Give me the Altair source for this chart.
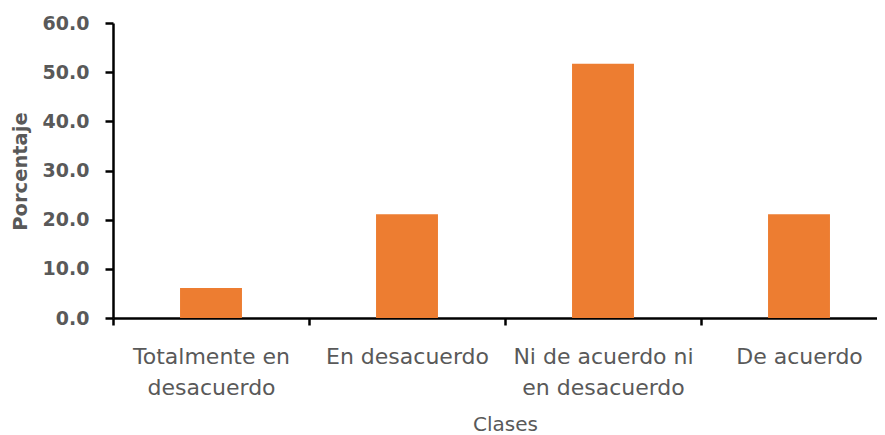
import altair as alt
import pandas as pd

categorias = ["Totalmente en\ndesacuerdo", "En desacuerdo", "Ni de acuerdo ni\nen desacuerdo", "De acuerdo"]
porcentajes = [6.1, 21.1, 51.7, 21.1]
y_ticks = [0, 10, 20, 30, 40, 50, 60]

df = pd.DataFrame({"clase": categorias, "porcentaje": porcentajes})

GRAY = "#595959"
FONT = "DejaVu Sans"

chart = alt.Chart(df).mark_bar(
    color="#ED7D31", width=alt.RelativeBandSize(0.316)
).encode(
    x=alt.X(
        "clase:N",
        sort=categorias,
        scale=alt.Scale(paddingInner=0, paddingOuter=0),
        axis=alt.Axis(
            title="Clases",
            titleFont=FONT,
            titleFontSize=20,
            titleFontWeight="normal",
            titleColor=GRAY,
            titleX=392,
            titleY=106,
            titleBaseline="middle",
            labelFont=FONT,
            labelFontSize=22,
            labelColor=GRAY,
            labelAngle=0,
            labelPadding=21,
            labelLineHeight=31,
            labelLimit=400,
            labelExpr="split(datum.label, '\\n')",
            tickBand="extent",
            tickSize=7,
            tickWidth=2.5,
            tickColor="black",
            domainColor="black",
            domainWidth=2.5,
            grid=False,
        ),
    ),
    y=alt.Y(
        "porcentaje:Q",
        scale=alt.Scale(domain=[0, 60], nice=False),
        axis=alt.Axis(
            title="Porcentaje",
            values=y_ticks,
            format=".1f",
            titleFont=FONT,
            titleFontSize=19.5,
            titleFontWeight="bold",
            titleColor=GRAY,
            titleX=-87,
            titleY=148,
            titleAngle=270,
            titleBaseline="alphabetic",
            titleAlign="center",
            labelFont=FONT,
            labelFontSize=19,
            labelFontWeight="bold",
            labelColor=GRAY,
            labelPadding=16,
            tickSize=8,
            tickWidth=2.5,
            tickColor="black",
            domainColor="black",
            domainWidth=2.5,
            grid=False,
        ),
    ),
).properties(
    width=784,
    height=295,
    autosize=alt.AutoSizeParams(type="none"),
    padding={"left": 105, "top": 15, "right": -20, "bottom": 117},
).configure_view(stroke=None)

chart.save("out.html", embed_options={"renderer": "svg", "actions": False})
